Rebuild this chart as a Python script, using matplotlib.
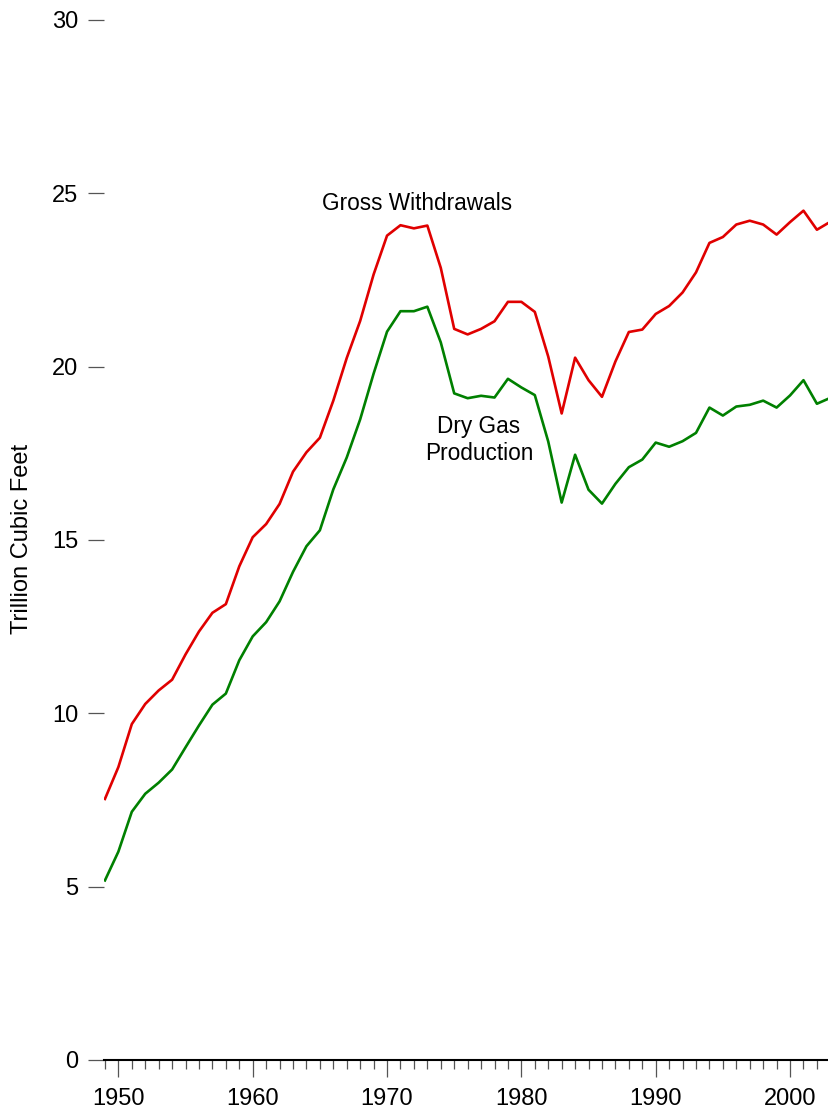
import matplotlib
matplotlib.use("Agg")
import matplotlib.pyplot as plt
from matplotlib.ticker import MultipleLocator, FixedLocator

years = list(range(1949, 2004))
gross_withdrawals = [
    7.53, 8.45, 9.69, 10.27, 10.66, 10.97, 11.70, 12.36, 12.90, 13.15,
    14.24, 15.08, 15.46, 16.04, 16.97, 17.53, 17.95, 19.02, 20.25, 21.32,
    22.66, 23.78, 24.08, 23.99, 24.07, 22.85, 21.09, 20.93, 21.09, 21.31,
    21.87, 21.87, 21.58, 20.29, 18.65, 20.26, 19.61, 19.13, 20.15, 21.00,
    21.07, 21.52, 21.75, 22.14, 22.72, 23.57, 23.74, 24.10, 24.21, 24.10,
    23.81, 24.17, 24.50, 23.95, 24.18,
]
dry_gas_production = [
    5.18, 6.01, 7.16, 7.68, 8.00, 8.38, 9.02, 9.65, 10.25, 10.57,
    11.53, 12.22, 12.63, 13.23, 14.08, 14.82, 15.28, 16.46, 17.38, 18.48,
    19.80, 21.01, 21.60, 21.60, 21.73, 20.70, 19.23, 19.09, 19.16, 19.11,
    19.65, 19.40, 19.18, 17.84, 16.08, 17.46, 16.45, 16.05, 16.62, 17.10,
    17.32, 17.81, 17.69, 17.85, 18.09, 18.82, 18.59, 18.85, 18.90, 19.02,
    18.82, 19.17, 19.61, 18.93, 19.10,
]
y_ticks = [0, 5, 10, 15, 20, 25, 30]
x_ticks = [1950, 1960, 1970, 1980, 1990, 2000]

plt.rcParams['font.family'] = ['Liberation Sans', 'DejaVu Sans']

fig = plt.figure(figsize=(8.29, 11.14), dpi=100)
ax = fig.add_axes([104 / 829, 1 - 1060 / 1114, 1 - 104 / 829, (1060 - 20) / 1114])

ax.plot(years, gross_withdrawals, color='#e00000', lw=1.9, clip_on=True)
ax.plot(years, dry_gas_production, color='#008000', lw=1.9, clip_on=True)

ax.set_xlim(1948.93, 2002.9)
ax.set_ylim(0, 30)

for s in ['left', 'top', 'right']:
    ax.spines[s].set_visible(False)
ax.spines['bottom'].set_linewidth(1.5)
ax.spines['bottom'].set_color('black')

ax.yaxis.set_major_locator(FixedLocator(y_ticks))
ax.xaxis.set_major_locator(FixedLocator(x_ticks))
ax.xaxis.set_minor_locator(MultipleLocator(1))

ax.tick_params(axis='y', which='major', direction='out', length=11.5, width=0.9,
               color='#555555', labelsize=17, pad=7)
ax.tick_params(axis='x', which='major', direction='out', length=12.2, width=0.9,
               color='#555555', labelsize=17, pad=8)
ax.tick_params(axis='x', which='minor', direction='out', length=6.5, width=0.9,
               color='#555555')

fig.text(22 / 829, 1 - 539 / 1114, 'Trillion Cubic Feet', rotation=90,
         ha='center', va='center', fontsize=17)

ax.text(1972.23, 24.72, 'Gross Withdrawals', ha='center', va='center', fontsize=16.3)
ax.text(1976.85, 17.88, 'Dry Gas\nProduction', ha='center', va='center',
        multialignment='center', fontsize=16.3, linespacing=1.25)

fig.savefig('out.png', dpi=100)
